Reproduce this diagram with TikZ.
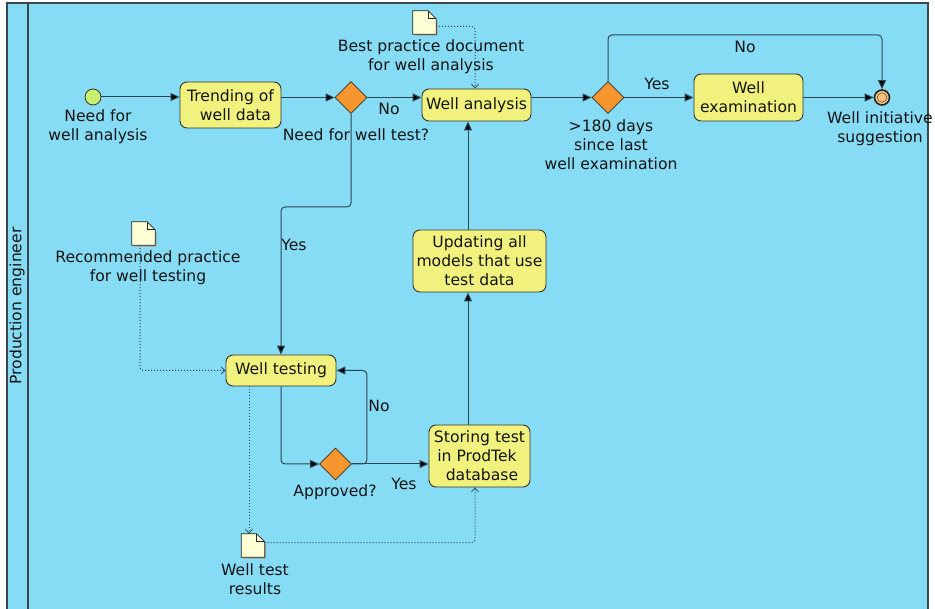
\documentclass[tikz,border=0pt]{standalone}
\usepackage{fontspec}
\setmainfont{DejaVu Sans}
\usetikzlibrary{shapes.geometric,arrows.meta,calc}
\definecolor{poolfill}{RGB}{135,220,245}
\definecolor{poolline}{RGB}{55,70,80}
\definecolor{taskfill}{RGB}{240,242,125}
\definecolor{gwfill}{RGB}{247,150,46}
\definecolor{startfill}{RGB}{200,240,110}
\definecolor{endfill}{RGB}{250,193,122}
\definecolor{docfill}{RGB}{255,255,212}
\definecolor{edgecol}{RGB}{45,70,85}
\definecolor{txt}{RGB}{20,20,20}
\newcommand\docicon[1]{%
  \fill[black!35] ([xshift=1.5pt,yshift=-1.5pt]#1.south west) -- ([xshift=1.5pt,yshift=-1.5pt]#1.south east) -- ([xshift=1.5pt,yshift=-9.5pt]#1.north east) -- cycle;
  \draw[docline,fill=docfill] (#1.south west) -- (#1.north west) -- ([xshift=-8pt]#1.north east) -- ([yshift=-8pt]#1.north east) -- (#1.south east) -- cycle;
  \draw[docline] ([xshift=-8pt]#1.north east) |- ([yshift=-8pt]#1.north east);}
\begin{document}
\begin{tikzpicture}[x=1pt,y=-1pt,
  every node/.style={font=\fontsize{15.6}{19}\selectfont, text=txt},
  task/.style={rectangle, rounded corners=7pt, draw=black!80, line width=0.9pt, fill=taskfill, align=center, inner sep=0pt},
  gw/.style={diamond, draw=black!80, line width=0.8pt, fill=gwfill, minimum width=32pt, minimum height=32pt, inner sep=0pt},
  docnode/.style={rectangle, draw=none, minimum width=23pt, minimum height=23pt, inner sep=0pt},
  docline/.style={draw=black!85, line width=0.8pt},
  lbl/.style={align=center, inner sep=0pt, yshift=-1.5pt},
  flow/.style={draw=edgecol, line width=1pt, rounded corners=4pt, -{Triangle[length=9pt,width=8pt,fill=black]}},
  assoc/.style={draw=edgecol, line width=1pt, dotted, rounded corners=3pt, -{Straight Barb[length=4pt,width=7pt,line width=0.7pt]}}
]
\useasboundingbox (0,0) rectangle (935,609);
% pool
\fill[white] (0,0) rectangle (935,609);
\draw[poolline, line width=1.2pt, fill=poolfill] (7,3) rectangle (928,625);
\draw[poolline, line width=1.4pt] (28,3) -- (28,625);
\node[rotate=90, align=center, inner sep=0pt] (lane) at (17,306) {Production engineer};

% coordinates
\coordinate (topy) at (0,35);
\coordinate (yesy) at (0,207);
\coordinate (vx) at (468,0);
\coordinate (ax) at (475,0);
\coordinate (d3x) at (249,0);

% nodes
\node[circle, draw=black!80, line width=0.8pt, fill=startfill, minimum size=16pt, inner sep=0pt] (start) at (93,97) {};
\node[lbl] (startl) at (98,125) {Need for\\well analysis};
\node[task, minimum width=101pt, minimum height=46pt] (trend) at (230.5,105) {Trending of\\\ \ well data};
\node[gw] (gw1) at (351,97.5) {};
\node[lbl] (gw1l) at (356,133) {Need for well test?};
\node[task, minimum width=109pt, minimum height=32pt] (wa) at (476.5,105) {Well analysis};
\node[docnode] (doc1) at (424.5,22.5) {};
\node[lbl] (doc1l) at (431,55) {Best practice document\\for well analysis};
\node[gw] (gw2) at (608,97.5) {};
\node[lbl] (gw2l) at (611,143) {>180 days\\since last\\well examination};
\node[task, minimum width=109pt, minimum height=47pt] (we) at (748.5,97.5) {Well\\examination};
\node[circle, draw=black!85, line width=1.6pt, fill=endfill, minimum size=15pt, inner sep=0pt] (end) at (882,97.5) {};
\draw[black!70, line width=0.5pt] (end.center) circle (4.8pt);
\node[lbl] (endl) at (880,127) {Well initiative\\suggestion};
\node[docnode] (doc2) at (143.5,233.5) {};
\node[lbl] (doc2l) at (148,266) {Recommended practice\\for well testing};
\node[task, minimum width=110pt, minimum height=31pt] (wt) at (281,370.5) {Well testing};
\node[task, minimum width=133pt, minimum height=62pt] (up) at (479.5,261) {Updating all\\models that use\\test data};
\node[gw] (gw3) at (335.5,464) {};
\node[lbl] (gw3l) at (335,491) {Approved?};
\node[task, minimum width=101pt, minimum height=62pt] (st) at (479.5,456) {Storing test\\in ProdTek\ \ \ \\\ database};
\node[docnode] (doc3) at (253,545.5) {};
\node[lbl] (doc3l) at (255,578) {Well test\\results};

\docicon{doc1}
\docicon{doc2}
\docicon{doc3}

% flows
\draw[flow] (start.east) -- (start.east -| trend.west);
\draw[flow] (trend.east |- gw1) -- (gw1.west);
\draw[flow] (gw1.east) -- (gw1 -| wa.west);
\draw[flow] (wa.east |- gw2) -- (gw2.west);
\draw[flow] (gw2.east) -- (gw2 -| we.west);
\draw[flow] (we.east |- end) -- (end.west);
\draw[flow] (gw2.north) |- (topy -| end) -- (end.north);
\draw[flow] (gw1.south) -- (gw1 |- yesy) -| (wt.north);
\draw[flow] (wt.south) |- (gw3.west);
\draw[flow] (gw3.east) -- ++(15,0) |- (wt.east);
\draw[flow] (gw3.east) -- (gw3 -| st.west);
\draw[flow] (st.north -| vx) -- (up.south -| vx);
\draw[flow] (up.north -| vx) -- (wa.south -| vx);

% associations
\draw[assoc] ([yshift=-4pt]doc1.east) -| (wa.north -| ax);
\draw[assoc] ([xshift=-3.5pt]doc2.south) |- (wt.west);
\draw[assoc] (wt.south -| d3x) -- (d3x |- doc3.north);
\draw[assoc] ([yshift=3pt]doc3.east) -| (st.south -| ax);

% flow labels
\node[lbl] (no1) at (389,107) {No};
\node[lbl] (yes2) at (657,82) {Yes};
\node[lbl] (no2) at (745,45) {No};
\node[lbl] (yes1) at (294,243) {Yes};
\node[lbl] (no3) at (379,404) {No};
\node[lbl] (yes3) at (404,482) {Yes};
\end{tikzpicture}
\end{document}
